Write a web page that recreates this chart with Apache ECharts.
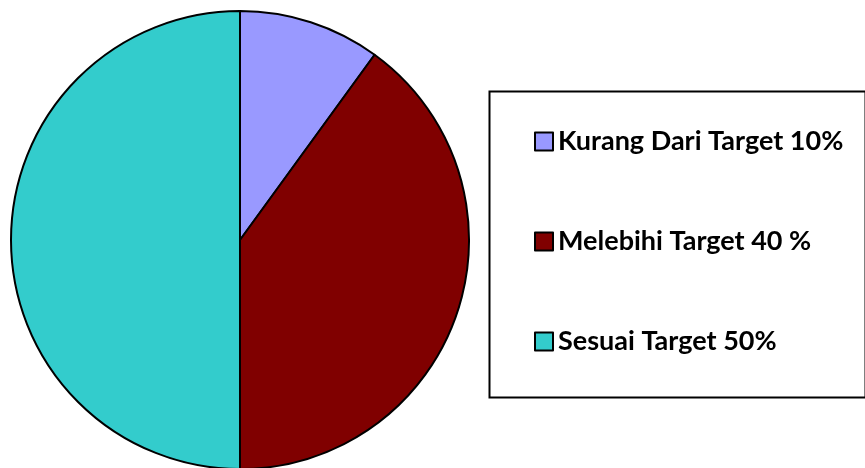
<!DOCTYPE html>
<html><head><meta charset="utf-8">
<script src="https://cdn.jsdelivr.net/npm/echarts@6/dist/echarts.min.js"></script>
<style>html,body{margin:0;padding:0;background:#fff}#c{width:865px;height:468px}</style>
</head><body><div id="c"></div>
<script>
const categories = ['Kurang Dari Target 10%', 'Melebihi Target 40 %', 'Sesuai Target 50%'];
const values = [10, 40, 50];
const colors = ['#9999FF', '#800000', '#33CCCC'];

const chart = echarts.init(document.getElementById('c'), null, {renderer: 'canvas'});
chart.setOption({
  animation: false,
  backgroundColor: '#ffffff',
  graphic: [{
    type: 'rect', left: 487, top: 89,
    shape: {width: 376, height: 306},
    style: {fill: 'none', stroke: '#000', lineWidth: 2}, z: -1
  }],
  legend: {
    orient: 'vertical', left: 529, top: 123,
    icon: 'rect',
    itemWidth: 18, itemHeight: 18, itemGap: 73,
    textStyle: {fontFamily: 'Lato', fontWeight: 'bold', fontSize: 27, color: '#000', lineHeight: 27, padding: [0,0,0,0]},
    data: categories,
    selectedMode: false
  },
  series: [{
    type: 'pie',
    center: [240, 240], radius: 229,
    startAngle: 90, clockwise: true,
    label: {show: false}, labelLine: {show: false},
    emphasis: {disabled: true},
    itemStyle: {borderColor: '#000', borderWidth: 2},
    data: categories.map((n, i) => ({name: n, value: values[i], itemStyle: {color: colors[i]}}))
  }]
});
</script></body></html>
